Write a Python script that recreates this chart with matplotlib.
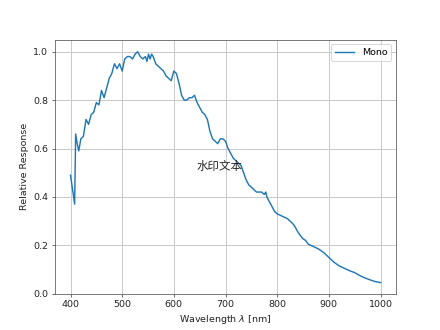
import matplotlib
matplotlib.use("Agg")
import matplotlib.pyplot as plt

plt.rcParams['font.family'] = ['DejaVu Sans', 'Noto Sans CJK SC']

wavelength = [400, 408, 410, 413, 416, 420, 425, 430, 435, 440, 445, 450, 455, 460, 465,
              470, 475, 480, 485, 490, 495, 500, 505, 510, 515, 520, 525, 530, 535, 540,
              545, 548, 551, 554, 557, 560, 565, 570, 575, 580, 585, 590, 595, 600, 605,
              610, 615, 620, 625, 630, 635, 640, 645, 650, 655, 660, 665, 670, 675, 680,
              685, 690, 695, 700, 705, 710, 715, 720, 725, 730, 735, 740, 745, 750, 755,
              760, 765, 770, 775, 778, 780, 785, 790, 795, 800, 810, 820, 825, 830, 835,
              840, 845, 850, 855, 860, 870, 880, 890, 900, 910, 920, 930, 940, 950, 960,
              970, 980, 990, 1000]
response = [0.49, 0.37, 0.66, 0.62, 0.59, 0.64, 0.65, 0.72, 0.70, 0.74, 0.75, 0.79, 0.78, 0.84, 0.81,
            0.85, 0.89, 0.91, 0.95, 0.93, 0.95, 0.92, 0.97, 0.98, 0.98, 0.97, 0.99, 1.00, 0.98, 0.97,
            0.98, 0.96, 0.99, 0.97, 0.99, 0.98, 0.95, 0.94, 0.93, 0.92, 0.90, 0.89, 0.88, 0.92, 0.91,
            0.87, 0.82, 0.80, 0.80, 0.81, 0.81, 0.82, 0.79, 0.77, 0.75, 0.74, 0.72, 0.67, 0.64, 0.63,
            0.62, 0.64, 0.64, 0.63, 0.60, 0.58, 0.56, 0.55, 0.54, 0.53, 0.50, 0.47, 0.45, 0.44, 0.43,
            0.42, 0.42, 0.42, 0.41, 0.42, 0.40, 0.38, 0.36, 0.34, 0.33, 0.32, 0.31, 0.30, 0.29, 0.275,
            0.255, 0.24, 0.227, 0.22, 0.205, 0.195, 0.185, 0.17, 0.15, 0.13, 0.115, 0.105, 0.095, 0.087, 0.075,
            0.065, 0.057, 0.05, 0.046]

fig, ax = plt.subplots(figsize=(6.4, 4.8), dpi=68.75)
ax.plot(wavelength, response, label='Mono')
ax.set_ylim(0, 1.05)
ax.set_xlabel(r'Wavelength $\lambda$ [nm]', color='#222222')
ax.set_ylabel('Relative Response', color='#222222')
ax.grid(True, color='#c8c8c8', linewidth=1.0)
for s in ax.spines.values():
    s.set_color('#555555')
ax.tick_params(colors='#444444', labelcolor='#222222')
ax.legend(loc='upper right')
ax.text(0.481, 0.502, '水印文本', transform=ax.transAxes, ha='center', va='center',
        fontsize=12, color='#222222', family=['Noto Sans CJK SC', 'DejaVu Sans'])
fig.savefig('out.png', dpi=68.75)
